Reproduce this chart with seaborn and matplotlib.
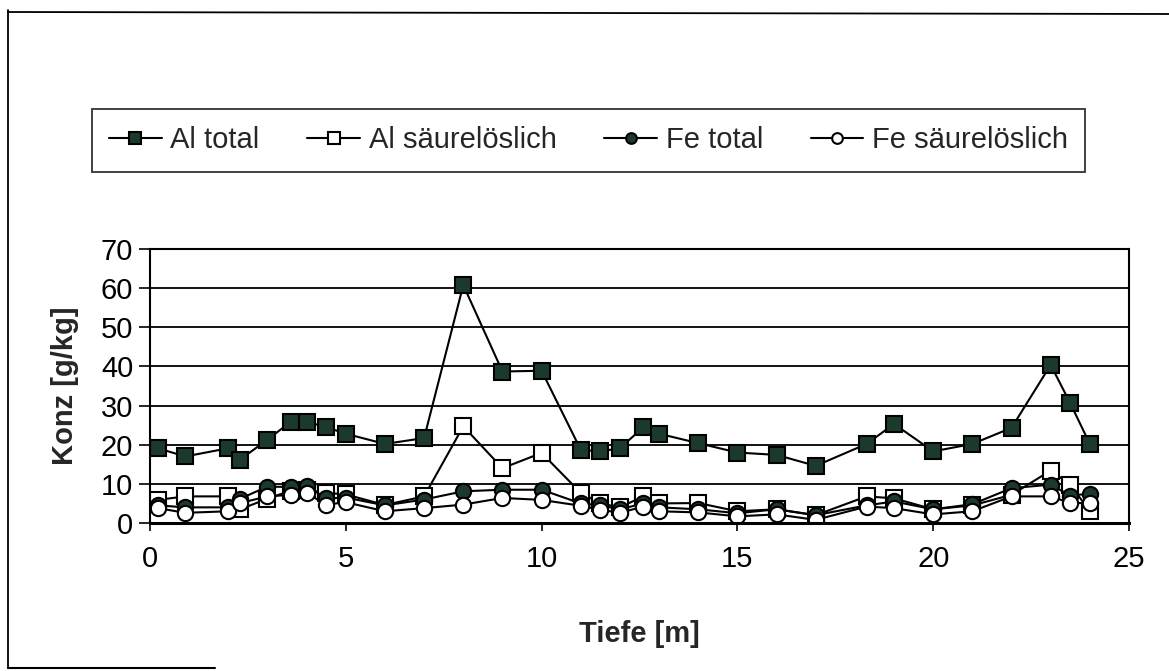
import matplotlib
matplotlib.use("Agg")
import matplotlib.pyplot as plt
from matplotlib.lines import Line2D
import seaborn as sns
import pandas as pd

# depth in m, concentrations in g/kg
depth = [0.2, 0.9, 2.0, 2.3, 3.0, 3.6, 4.0, 4.5, 5.0, 6.0, 7.0, 8.0, 9.0, 10.0,
         11.0, 11.5, 12.0, 12.6, 13.0, 14.0, 15.0, 16.0, 17.0, 18.3, 19.0, 20.0,
         21.0, 22.0, 23.0, 23.5, 24.0]
al_total = [19.1, 17.0, 19.1, 16.2, 21.3, 25.9, 25.9, 24.5, 22.8, 20.2, 21.7, 60.8,
            38.7, 38.9, 18.7, 18.3, 19.1, 24.5, 22.8, 20.4, 18.0, 17.4, 14.6, 20.2,
            25.3, 18.3, 20.2, 24.3, 40.4, 30.6, 20.2]
al_saeure = [5.9, 6.8, 6.8, 3.5, 6.2, 8.3, 8.5, 7.7, 7.3, 4.6, 6.8, 24.7,
             14.0, 17.9, 7.7, 5.0, 4.0, 6.8, 5.0, 5.1, 3.0, 3.5, 2.0, 6.8,
             6.3, 3.5, 4.5, 7.2, 13.4, 9.8, 3.0]
fe_total = [4.5, 4.0, 4.0, 6.2, 9.3, 9.2, 9.5, 6.3, 6.5, 4.5, 6.0, 8.1,
            8.5, 8.5, 5.0, 4.5, 3.5, 5.0, 4.0, 3.5, 2.5, 3.5, 2.0, 4.5,
            5.5, 3.5, 4.8, 8.9, 9.8, 7.0, 7.5]
fe_saeure = [3.8, 2.6, 3.0, 5.1, 6.8, 7.2, 7.6, 4.7, 5.3, 3.0, 3.8, 4.7,
             6.4, 5.9, 4.4, 3.4, 2.6, 4.2, 3.0, 2.7, 1.7, 2.2, 0.8, 4.2,
             3.8, 2.2, 3.0, 6.8, 6.8, 5.1, 5.1]

series_names = ["Al total", "Al säurelöslich", "Fe total", "Fe säurelöslich"]
x_ticks = [0, 5, 10, 15, 20, 25]
y_ticks = [0, 10, 20, 30, 40, 50, 60, 70]

df = pd.DataFrame({"Tiefe": depth,
                   "Al total": al_total,
                   "Al säurelöslich": al_saeure,
                   "Fe total": fe_total,
                   "Fe säurelöslich": fe_saeure})

sns.set_style("white")
plt.rcParams["font.family"] = ["Liberation Sans", "DejaVu Sans"]

green = "#1c3a2b"
styles = {
    "Al total": dict(marker="s", markerfacecolor=green, markersize=12),
    "Al säurelöslich": dict(marker="s", markerfacecolor="white", markersize=12),
    "Fe total": dict(marker="o", markerfacecolor=green, markersize=11),
    "Fe säurelöslich": dict(marker="o", markerfacecolor="white", markersize=11),
}

fig = plt.figure(figsize=(11.69, 6.71), dpi=100)
ax = fig.add_axes([150 / 1169, 1 - 523 / 671, 979 / 1169, 274 / 671])

for name in series_names:
    sns.lineplot(data=df, x="Tiefe", y=name, ax=ax, color="black", linewidth=1.5,
                 markeredgecolor="black", markeredgewidth=1.5, label=name,
                 **styles[name])

ax.set_xlim(0, 25)
ax.set_ylim(0, 70)
ax.set_xticks(x_ticks)
ax.set_yticks(y_ticks)
ax.tick_params(axis="both", labelsize=21, colors="black")
ax.tick_params(axis="y", direction="out", length=8, width=1.2, pad=4, left=True)
ax.tick_params(axis="x", direction="out", length=6, width=1.2, pad=10, bottom=True)
ax.yaxis.grid(True, color="black", linewidth=1.3)
ax.xaxis.grid(False)
ax.set_axisbelow(True)
for side in ax.spines.values():
    side.set_color("black")
    side.set_linewidth(1.5)
ax.spines["bottom"].set_linewidth(2.2)

ax.set_xlabel("Tiefe [m]", fontsize=21, fontweight="bold", labelpad=34)
ax.set_ylabel("Konz [g/kg]", fontsize=21, fontweight="bold", labelpad=16)

handles, labels = ax.get_legend_handles_labels()
ax.get_legend().remove()
leg = fig.legend(handles, labels, loc="center", ncol=4, mode="expand",
                 bbox_to_anchor=(77 / 1169, 1 - 174 / 671, 1023 / 1169, 67 / 671),
                 fontsize=21, frameon=True, fancybox=False, edgecolor="black",
                 handlelength=1.8, handletextpad=0.3, borderpad=0.6,
                 markerscale=0.7)
leg.get_frame().set_linewidth(1.3)

# scanned page border
fig.add_artist(Line2D([8 / 1169, 8 / 1169], [1 - 668 / 671, 1 - 10 / 671],
                      transform=fig.transFigure, color="black", linewidth=1.3))
fig.add_artist(Line2D([8 / 1169, 1.0], [1 - 12 / 671, 1 - 14 / 671],
                      transform=fig.transFigure, color="black", linewidth=1.3))
fig.add_artist(Line2D([8 / 1169, 215 / 1169], [1 - 668 / 671, 1 - 668 / 671],
                      transform=fig.transFigure, color="black", linewidth=1.5))

fig.savefig("out.png", dpi=100)
